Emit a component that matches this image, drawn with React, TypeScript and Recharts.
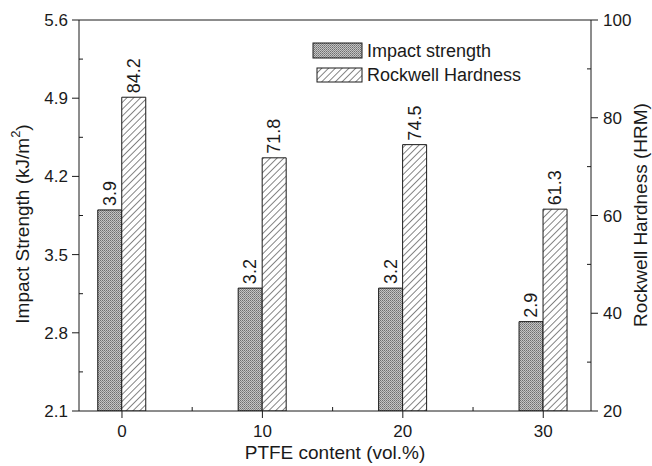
import React from 'react';
import {
  BarChart,
  Bar,
  XAxis,
  YAxis,
  Legend,
  LabelList,
  ReferenceLine,
} from 'recharts';

const ptfeContent = [0, 10, 20, 30];
const impactStrength = [3.9, 3.2, 3.2, 2.9];
const rockwellHardness = [84.2, 71.8, 74.5, 61.3];

const xTicks = [0, 5, 10, 15, 20, 25, 30];
const leftTicks = [2.1, 2.45, 2.8, 3.15, 3.5, 3.85, 4.2, 4.55, 4.9, 5.25, 5.6];
const rightTicks = [20, 30, 40, 50, 60, 70, 80, 90, 100];

const data = ptfeContent.map((c, i) => ({
  ptfe: c,
  impact: impactStrength[i],
  hardness: rockwellHardness[i],
}));

const INK = '#1a1a1a';
const FONT = '"Liberation Sans", Arial, sans-serif';

function XTick({ x, y, payload }: any) {
  const v = payload.value;
  if (v % 10 !== 0) {
    return <line x1={x} x2={x} y1={y} y2={y - 4} stroke={INK} />;
  }
  return (
    <g>
      <line x1={x} x2={x} y1={y} y2={y + 7} stroke={INK} />
      <text x={x} y={y + 26} textAnchor="middle" fontSize={17} fill={INK} fontFamily={FONT}>
        {v}
      </text>
    </g>
  );
}

function LeftTick({ x, y, payload, index }: any) {
  if (index % 2 === 1) {
    return <line x1={x} x2={x + 4} y1={y} y2={y} stroke={INK} />;
  }
  return (
    <g>
      <line x1={x - 7} x2={x} y1={y} y2={y} stroke={INK} />
      <text x={x - 11} y={y + 6} textAnchor="end" fontSize={17} fill={INK} fontFamily={FONT}>
        {Number(payload.value).toFixed(1)}
      </text>
    </g>
  );
}

function RightTick({ x, y, payload }: any) {
  const v = payload.value;
  if (v % 20 !== 0) {
    return <line x1={x - 4} x2={x} y1={y} y2={y} stroke={INK} />;
  }
  return (
    <g>
      <line x1={x} x2={x + 7} y1={y} y2={y} stroke={INK} />
      <text x={x + 12} y={y + 6} textAnchor="start" fontSize={17} fill={INK} fontFamily={FONT}>
        {v}
      </text>
    </g>
  );
}

function BarValue({ x, y, width, value }: any) {
  const cx = Number(x) + Number(width) / 2;
  const cy = Number(y) - 4;
  return (
    <text
      x={cx}
      y={cy}
      transform={`rotate(-90, ${cx}, ${cy})`}
      textAnchor="start"
      dominantBaseline="central"
      fontSize={18}
      fill={INK}
      fontFamily={FONT}
    >
      {Number(value).toFixed(1)}
    </text>
  );
}

function LegendBox() {
  return (
    <svg width={240} height={56} style={{ display: 'block' }}>
      <rect x={13} y={8} width={49} height={15} fill="url(#stipple)" stroke={INK} />
      <text x={67} y={22} fontSize={18} fill={INK} fontFamily={FONT}>Impact strength</text>
      <rect x={17} y={33} width={45} height={14} fill="url(#hatch)" stroke={INK} />
      <text x={67} y={46} fontSize={18} fill={INK} fontFamily={FONT}>Rockwell Hardness</text>
    </svg>
  );
}

export default function App() {
  return (
    <div style={{ position: 'absolute', left: 0, top: 0, background: '#fff' }}>
      <BarChart
        width={652}
        height={466}
        data={data}
        margin={{ top: 20, right: 0, left: 0, bottom: 0 }}
        barGap={0}
        barSize={24}
      >
        <defs>
          <pattern id="stipple" width="2" height="2" patternUnits="userSpaceOnUse">
            <rect width="2" height="2" fill="#c4c4c4" />
            <rect x="0" y="0" width="1" height="1" fill="#6e6e6e" />
            <rect x="1" y="1" width="1" height="1" fill="#8a8a8a" />
          </pattern>
          <pattern id="hatch" width="4.8" height="4.8" patternUnits="userSpaceOnUse" patternTransform="rotate(45)">
            <rect width="4.8" height="4.8" fill="#fff" />
            <line x1="0" y1="0" x2="0" y2="4.8" stroke="#222" strokeWidth={1.1} />
          </pattern>
        </defs>
        <XAxis
          dataKey="ptfe"
          type="number"
          domain={[-3.06, 33.4]}
          allowDataOverflow
          ticks={xTicks}
          interval={0}
          height={55}
          tickSize={0}
          tickMargin={0}
          tickLine={false}
          axisLine={{ stroke: INK }}
          tick={<XTick />}
        />
        <YAxis
          yAxisId="left"
          orientation="left"
          domain={[2.1, 5.6]}
          allowDataOverflow
          ticks={leftTicks}
          interval={0}
          width={79}
          tickSize={0}
          tickMargin={0}
          tickLine={false}
          axisLine={{ stroke: INK }}
          tick={<LeftTick />}
        />
        <YAxis
          yAxisId="right"
          orientation="right"
          domain={[20, 100]}
          allowDataOverflow
          ticks={rightTicks}
          interval={0}
          width={61}
          tickSize={0}
          tickMargin={0}
          tickLine={false}
          axisLine={{ stroke: INK }}
          tick={<RightTick />}
        />
        <ReferenceLine yAxisId="left" y={5.6} stroke={INK} />
        <Bar yAxisId="left" dataKey="impact" name="Impact strength" fill="url(#stipple)" stroke={INK} strokeWidth={1} isAnimationActive={false}>
          <LabelList dataKey="impact" content={<BarValue />} />
        </Bar>
        <Bar yAxisId="right" dataKey="hardness" name="Rockwell Hardness" fill="url(#hatch)" stroke={INK} strokeWidth={1} isAnimationActive={false}>
          <LabelList dataKey="hardness" content={<BarValue />} />
        </Bar>
        <Legend
          layout="vertical"
          align="center"
          verticalAlign="middle"
          content={<LegendBox />}
          wrapperStyle={{ left: 300, top: 35, width: 240, height: 56 }}
        />
        <text
          x={22}
          y={224}
          transform="rotate(-90, 22, 224)"
          textAnchor="middle"
          dominantBaseline="central"
          fontSize={19}
          fill={INK}
          fontFamily={FONT}
        >
          Impact Strength (kJ/m
          <tspan dy={-7} fontSize={13}>2</tspan>
          <tspan dy={7}>)</tspan>
        </text>
        <text
          x={640}
          y={215}
          transform="rotate(-90, 640, 215)"
          textAnchor="middle"
          dominantBaseline="central"
          fontSize={19}
          fill={INK}
          fontFamily={FONT}
        >
          Rockwell Hardness (HRM)
        </text>
        <text x={335} y={459} textAnchor="middle" fontSize={19} fill={INK} fontFamily={FONT}>
          PTFE content (vol.%)
        </text>
      </BarChart>
    </div>
  );
}
